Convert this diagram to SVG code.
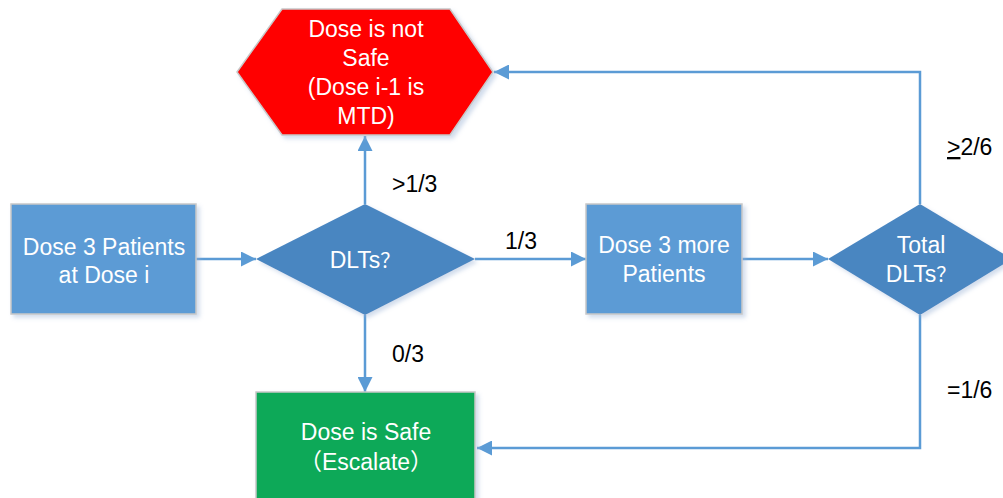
<svg xmlns="http://www.w3.org/2000/svg" width="1003" height="498" viewBox="0 0 1003 498">
<defs>
<filter id="sh" x="-10%" y="-10%" width="125%" height="125%">
<feDropShadow dx="3" dy="3" stdDeviation="2" flood-color="#9bb4d6" flood-opacity="0.45"/>
</filter>
<marker id="ah" viewBox="0 0 10 10" refX="10" refY="5" markerWidth="6" markerHeight="6" markerUnits="strokeWidth" orient="auto">
<path d="M0,0 L10,5 L0,10 Z" fill="#5b9bd5"/>
</marker>
</defs>
<style>
.t{font-family:"Liberation Sans",Arial,"Noto Sans CJK SC",sans-serif;font-size:23px;fill:#fff;text-anchor:middle}
.cjk{font-family:"Noto Sans CJK SC",sans-serif}
.l{font-family:"Liberation Sans",Arial,sans-serif;font-size:23px;fill:#000}
.c{fill:none;stroke:#5b9bd5;stroke-width:2.5}
.box{fill:#5b9bd5;stroke:#c8c8c8;stroke-width:1.5}
.dia{fill:#4a86c1}
</style>
<rect width="1003" height="498" fill="#fff"/>
<g id="connectors">
<path class="c" d="M196,259 H256" marker-end="url(#ah)"/>
<path class="c" d="M365,204 V136" marker-end="url(#ah)"/>
<path class="c" d="M365,315 V392" marker-end="url(#ah)"/>
<path class="c" d="M475,259 H586" marker-end="url(#ah)"/>
<path class="c" d="M742,259 H828" marker-end="url(#ah)"/>
<path class="c" d="M920,204 V72 H494" marker-end="url(#ah)"/>
<path class="c" d="M920,315 V448 H477" marker-end="url(#ah)"/>
</g>
<g id="labels">
<text class="l" x="392" y="192">&gt;1/3</text>
<text class="l" x="505" y="249">1/3</text>
<text class="l" x="392" y="362">0/3</text>
<text class="l" x="947" y="155"><tspan text-decoration="underline">&gt;</tspan>2/6</text>
<text class="l" x="947" y="398">=1/6</text>
</g>
<g id="start">
<rect class="box" x="11" y="204" width="185" height="110" filter="url(#sh)"/>
<text class="t" x="104" y="255">Dose 3 Patients</text>
<text class="t" x="104" y="283">at Dose i</text>
</g>
<g id="notsafe">
<polygon points="237,72 282,9 450,9 493,72 450,135 282,135" fill="#ff0000" stroke="#c8c8c8" stroke-width="1.5" filter="url(#sh)"/>
<text class="t" x="366" y="37">Dose is not</text>
<text class="t" x="366" y="66">Safe</text>
<text class="t" x="366" y="95">(Dose i-1 is</text>
<text class="t" x="366" y="124">MTD)</text>
</g>
<g id="dlts">
<polygon class="dia" points="256,259 365,204 475,259 365,315" filter="url(#sh)"/>
<text class="t" x="365" y="268">DLTs<tspan class="cjk" font-size="20">？</tspan></text>
</g>
<g id="more">
<rect class="box" x="586" y="204" width="156" height="110" filter="url(#sh)"/>
<text class="t" x="664" y="253">Dose 3 more</text>
<text class="t" x="664" y="282">Patients</text>
</g>
<g id="total">
<polygon class="dia" points="828,259 920,204 1012,259 920,315" filter="url(#sh)"/>
<text class="t" x="921" y="253">Total</text>
<text class="t" x="921" y="282">DLTs<tspan class="cjk" font-size="20">？</tspan></text>
</g>
<g id="safe">
<rect x="256" y="392" width="219" height="120" fill="#11a959" stroke="#c8c8c8" stroke-width="1.5" filter="url(#sh)"/>
<text class="t" x="366" y="440">Dose is Safe</text>
<text class="t" x="366" y="470"><tspan class="cjk">（</tspan>Escalate<tspan class="cjk">）</tspan></text>
</g>
</svg>
